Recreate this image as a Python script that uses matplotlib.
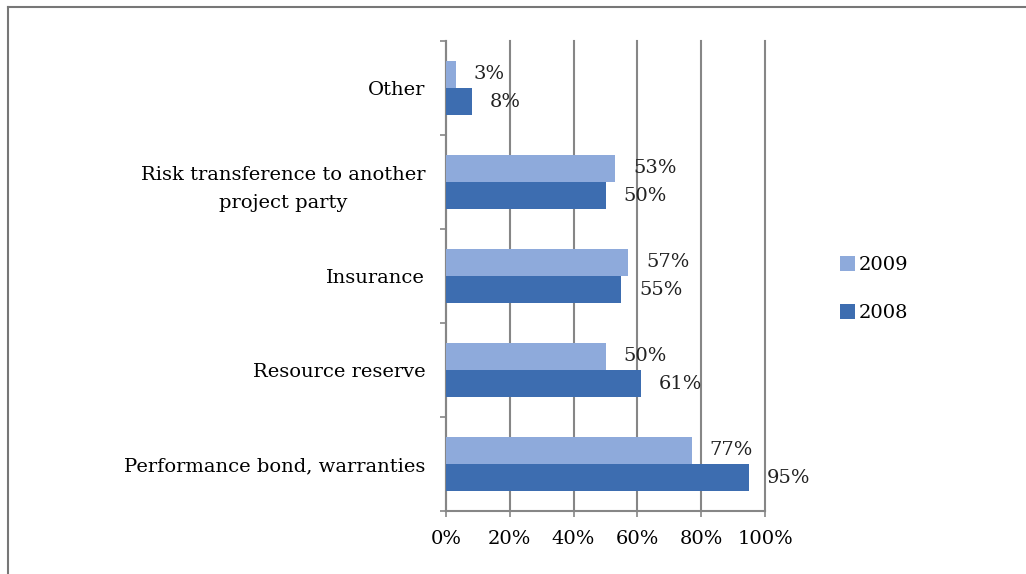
import matplotlib
matplotlib.use("Agg")
import matplotlib.pyplot as plt
from matplotlib.lines import Line2D
import numpy as np

categories = ["Other", "Risk transference to another\nproject party", "Insurance",
              "Resource reserve", "Performance bond, warranties"]
values_2009 = [3, 53, 57, 50, 77]
values_2008 = [8, 50, 55, 61, 95]
xticks = [0, 20, 40, 60, 80, 100]
xticklabels = ["0%", "20%", "40%", "60%", "80%", "100%"]

plt.rcParams['font.family'] = ['DejaVu Serif']
FS = 14
c09 = "#8eaadb"
c08 = "#3d6db0"
gc = "#868686"

fig = plt.figure(figsize=(10.26, 5.74), dpi=100)
ax = fig.add_axes([446/1026, 1-511/574, (765-446)/1026, (511-41)/574])

y = np.arange(len(categories))
h = 0.29
ax.barh(y - h/2, values_2009, height=h, color=c09, label="2009", zorder=3)
ax.barh(y + h/2, values_2008, height=h, color=c08, label="2008", zorder=3)

for yi, v in zip(y, values_2009):
    ax.annotate(f"{v}%", (v, yi - h/2), xytext=(13, 0), textcoords="offset points",
                va="center", ha="left", fontsize=FS, color="#222222")
for yi, v in zip(y, values_2008):
    ax.annotate(f"{v}%", (v, yi + h/2), xytext=(13, 0), textcoords="offset points",
                va="center", ha="left", fontsize=FS, color="#222222")

ax.set_xlim(0, 100)
ax.set_ylim(len(categories) - 0.5, -0.5)
ax.set_xticks(xticks)
ax.set_xticklabels(xticklabels, fontsize=FS)
ax.set_yticks(y)
ax.set_yticklabels(categories, fontsize=FS)
for lab in ax.get_yticklabels():
    lab.set_multialignment("center")
    lab.set_linespacing(1.75)
ax.set_yticks(np.arange(len(categories) + 1) - 0.5, minor=True)
ax.tick_params(axis="y", which="major", length=0, pad=15)
ax.tick_params(axis="y", which="minor", length=4, width=1.2, color=gc, direction="out")
ax.tick_params(axis="x", length=4, width=1.2, color=gc, pad=10)
ax.xaxis.grid(True, color=gc, linewidth=1.5, zorder=0)
for gl in ax.get_xgridlines():
    gl.set_clip_on(False)
ax.set_axisbelow(True)
for s in ["top", "right"]:
    ax.spines[s].set_visible(False)
for s in ["left", "bottom"]:
    ax.spines[s].set_color(gc)
    ax.spines[s].set_linewidth(1.5)

leg = ax.legend(loc="center left", bbox_to_anchor=(822/1026, 1-289/574),
                bbox_transform=fig.transFigure, frameon=False, fontsize=FS,
                handlelength=0.8, handleheight=0.8, handletextpad=0.2, labelspacing=1.55)

# outer border (left and top only)
fig.add_artist(Line2D([8/1026, 8/1026], [0, 1-7/574], transform=fig.transFigure,
                      color="#777777", linewidth=1.5))
fig.add_artist(Line2D([8/1026, 1], [1-7/574, 1-7/574], transform=fig.transFigure,
                      color="#777777", linewidth=1.5))

fig.savefig("out.png", dpi=100)
